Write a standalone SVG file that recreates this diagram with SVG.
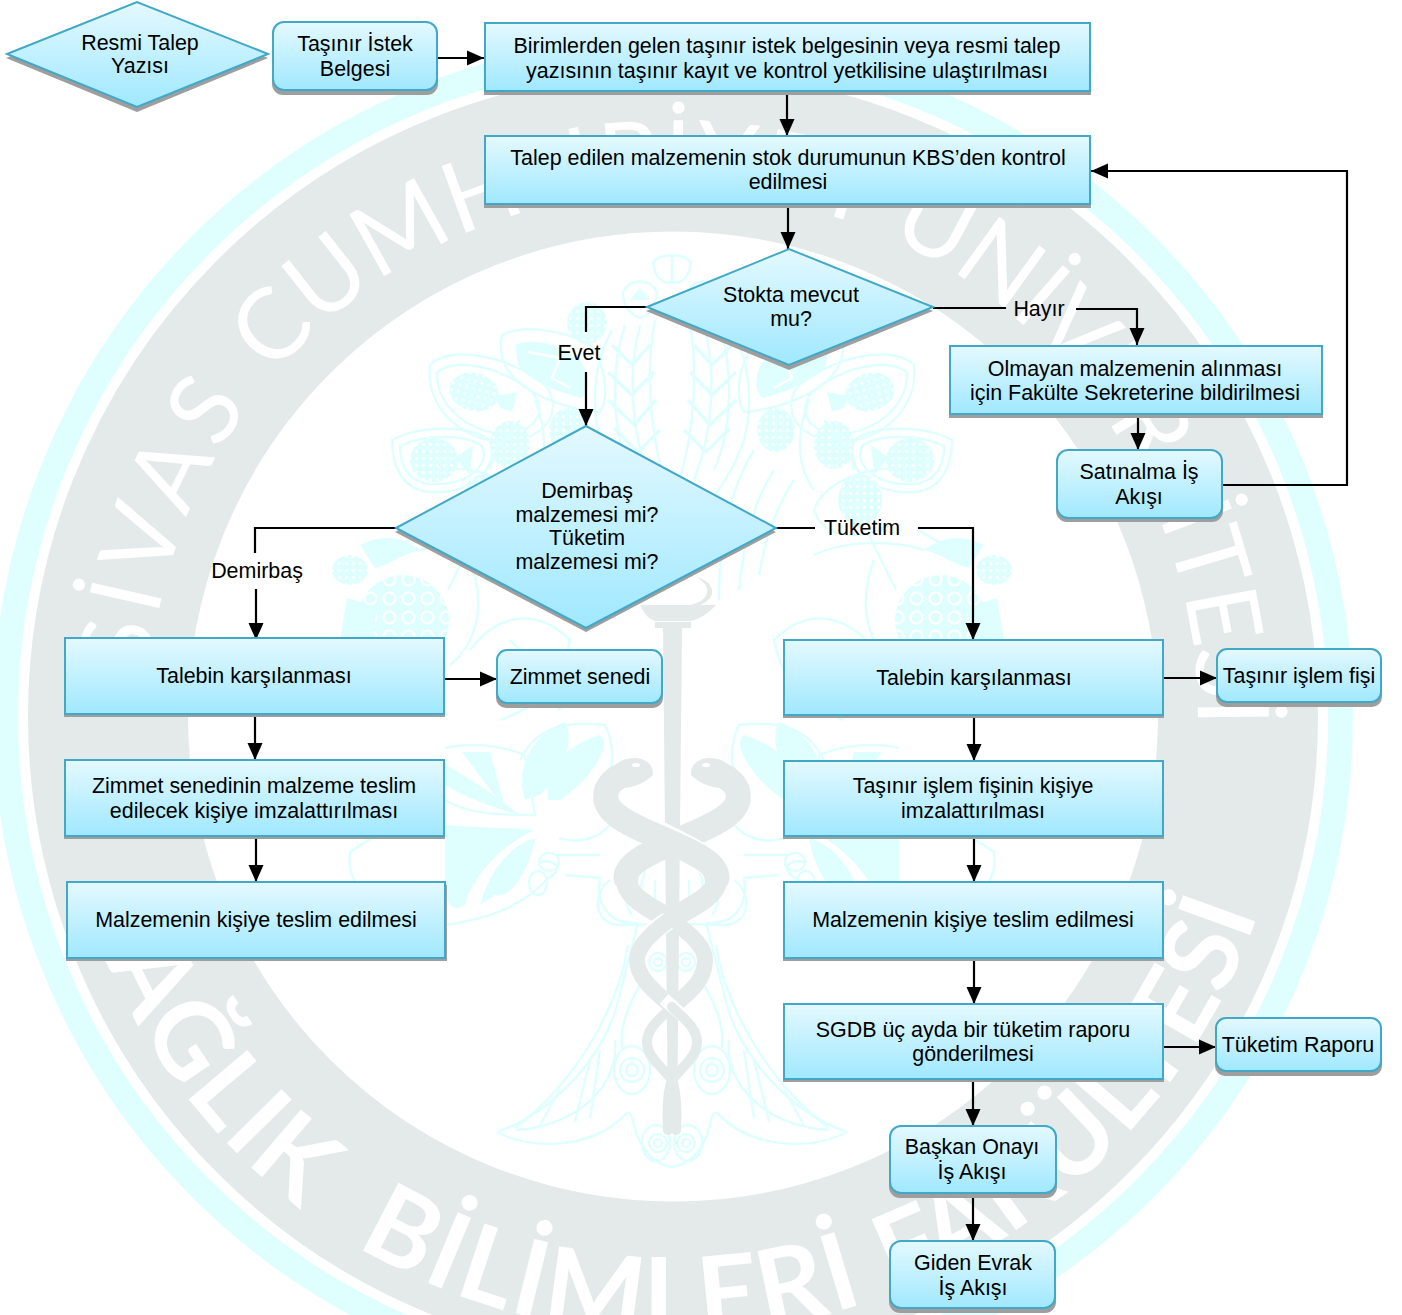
<svg xmlns="http://www.w3.org/2000/svg" xmlns:xlink="http://www.w3.org/1999/xlink" width="1402" height="1315" viewBox="0 0 1402 1315">
<defs>
<linearGradient id="fillG" x1="0" y1="0" x2="0" y2="1"><stop offset="0" stop-color="#E4F9FF"/><stop offset="1" stop-color="#A0E8FF"/></linearGradient>
<marker id="arr" markerUnits="userSpaceOnUse" markerWidth="18" markerHeight="16" refX="17" refY="8" orient="auto"><path d="M0 0.5L17 8L0 15.5Z" fill="#000"/></marker>
<pattern id="dots" width="7" height="7" patternUnits="userSpaceOnUse"><rect width="7" height="7" fill="#DFFFFF"/><circle cx="3.5" cy="3.5" r="1.5" fill="#fff"/></pattern>
<pattern id="rings" width="19" height="19" patternUnits="userSpaceOnUse"><rect width="19" height="19" fill="#DFFFFF"/><circle cx="9.5" cy="9.5" r="6" fill="none" stroke="#fff" stroke-width="2.2"/></pattern>
<path id="arcTop" d="M148.7 689 A525 525 0 1 1 1180 852.4"/>
<path id="arcBot" d="M77 876 A617 617 0 0 0 1287.7 770.3"/>
</defs>
<style>
text{font-family:"Liberation Sans",Arial,sans-serif;font-size:21.45px;fill:#000;text-anchor:middle}
.n{fill:url(#fillG);stroke:#41A8C8;stroke-width:2}
.s{fill:#9E9E9E}
.c{fill:none;stroke:#000;stroke-width:2.2}
.a{marker-end:url(#arr)}
.w{font-family:Lato,"Open Sans",sans-serif;fill:#fff;text-anchor:start}
.t{fill:none;stroke:#DFFFFF;stroke-width:2.5}
.f{fill:#DFFFFF;stroke:none}
.sn{fill:none;stroke:#E4EAEA;stroke-linecap:round}
.sh{fill:#E4EAEA}
</style>
<g id="background">
<circle cx="673" cy="716.5" r="667.5" fill="none" stroke="#DFFFFF" stroke-width="25"/>
<circle cx="673" cy="716.5" r="565" fill="none" stroke="#E4EAEA" stroke-width="160"/>
<text class="w" style="font-size:99px"><textPath href="#arcTop" xlink:href="#arcTop" startOffset="12"><tspan style="letter-spacing:7px">SİVAS </tspan><tspan style="letter-spacing:0.6px">CUMHURİYET </tspan><tspan style="letter-spacing:-2.5px">ÜNİVERSİTESİ</tspan></textPath></text>
<text class="w" style="font-size:106px;letter-spacing:3px;font-weight:700"><textPath href="#arcBot" xlink:href="#arcBot" startOffset="29"><tspan>SAĞLIK </tspan><tspan dx="35">BİLİMLERİ </tspan><tspan style="letter-spacing:0.5px">FAKÜLTESİ</tspan></textPath></text>
<g id="tree" class="t">
<g id="treeHalf">
<path d="M653 262C660 255 668 255 672 256V282C664 284 655 280 653 262Z"/>
<path d="M623 292C630 278 650 278 657 292C656 305 650 315 640 318C630 315 622 305 623 292Z"/>
<path d="M630 300L640 288L650 300Z" class="f"/>
<ellipse cx="587" cy="323" rx="20" ry="21" fill="url(#dots)" stroke="none"/>
<path d="M502 335C520 325 560 328 590 345C605 365 610 395 600 412C570 410 520 395 505 365C500 355 500 345 502 335Z"/>
<path d="M515 345C535 337 560 345 580 360C590 375 590 390 582 398C555 392 530 380 518 365Z" class="f"/>
<path d="M528 352L560 358L552 378L570 388" stroke="#fff" fill="none"/>
<path d="M430 365C445 348 500 350 545 385C565 410 545 440 505 442C465 442 425 410 430 365Z"/>
<path d="M437 372C452 360 495 362 532 392C548 412 535 432 505 434C470 434 435 405 437 372Z"/>
<ellipse cx="474" cy="392" rx="25" ry="19" transform="rotate(15 474 392)" fill="url(#dots)" stroke="none"/>
<path d="M495 396L517 392L512 412L500 408Z" class="f"/>
<path d="M392 440C420 425 470 425 490 440C500 470 470 495 430 492C405 490 392 470 392 440Z"/>
<path d="M400 446C424 434 466 434 482 446C490 468 465 486 430 484C410 482 400 468 400 446Z"/>
<ellipse cx="434" cy="460" rx="24" ry="22" fill="url(#dots)" stroke="none"/>
<path d="M455 458L473 445L470 475Z" class="f"/>
<ellipse cx="510" cy="445" rx="20" ry="24" fill="url(#dots)" stroke="none"/>
<ellipse cx="568" cy="430" rx="19" ry="22" fill="url(#dots)" stroke="none"/>
<ellipse cx="484" cy="500" rx="22" ry="26" fill="url(#dots)" stroke="none"/>
<path d="M450 470C470 465 520 480 530 510C520 540 480 540 455 525"/>
<path d="M520 420C500 445 490 460 490 470M535 400C550 440 545 470 530 490"/>
<path d="M612 330C595 360 590 400 600 440C610 470 625 490 640 510M625 325C610 370 612 430 630 470"/>
<path d="M640 325C628 370 630 430 650 480M655 320C645 370 650 440 668 490"/>
<path d="M612 345L632 365L650 345M608 372L632 395L654 372M608 400L634 425L656 400M614 428L638 452L660 430" stroke-width="3.5"/>
<path d="M570 470C590 500 600 540 605 590M590 450C615 490 625 540 625 600M550 480C570 510 580 545 585 575"/>
<path d="M420 550C450 540 500 540 530 555M384 560C400 542 420 535 425 530"/>
<path d="M360 545C380 535 400 535 420 550C400 555 390 565 375 568" class="f"/>
<circle cx="403" cy="621" r="46" fill="url(#rings)" stroke="none"/>
<ellipse cx="350" cy="570" rx="18" ry="15" fill="url(#dots)" stroke="none"/>
<path d="M347 598L377 607L372 640H340Z" class="f"/>
<path d="M470 560C485 600 480 640 450 665M448 590L475 535"/>
<path d="M470 650C500 610 540 610 570 640C560 690 530 710 500 720M510 640C530 660 550 680 560 710"/>
<path d="M525 800C515 770 530 735 565 722C575 740 565 770 540 795Z" class="f"/>
<path d="M548 800C545 770 565 745 600 735C615 745 585 785 560 800Z" class="f"/>
<path d="M520 760C535 730 560 720 605 725C615 745 615 770 600 800M600 790C625 790 620 830 590 838C570 845 560 835 560 840"/>
<path d="M610 880C590 895 595 925 620 925C640 925 672 923 672 923" />
<path d="M445 748C470 742 500 745 525 755L535 815C500 815 470 815 445 800" />
<path d="M445 765C465 775 495 795 520 815C500 810 470 800 445 785Z" class="f"/>
<path d="M462 752C475 770 490 790 505 808L490 752Z" class="f"/>
<path d="M445 825C480 828 520 828 535 830C500 845 470 880 465 905C450 915 445 900 445 880Z" class="f"/>
<path d="M480 905C490 870 510 845 535 838C530 870 510 900 495 895Z" class="f"/>
<path d="M445 925C480 920 520 910 548 878C565 870 555 858 540 862M447 830C420 820 395 820 350 852C345 880 365 900 395 915C410 925 430 925 445 925"/>
<ellipse cx="538" cy="883" rx="9" ry="12"/><ellipse cx="549" cy="862" rx="10" ry="9"/>
<path d="M555 855H600M565 875L600 878C595 905 610 925 638 923"/>
<path d="M636 860C625 875 622 905 632 915M645 870C640 885 640 900 645 910M655 880V905"/>
<path d="M638 923L617 1005C605 1050 560 1110 497 1132"/>
<path d="M628 945C620 1000 580 1080 515 1128"/>
<path d="M497 1132C530 1150 590 1150 625 1115C630 1110 632 1115 634 1125C640 1150 655 1165 672 1167"/>
<path d="M515 1130C570 1128 620 1090 615 1040M590 1060L575 1122M600 1050L590 1118M560 1090L540 1125"/>
<circle cx="632" cy="1070" r="6"/><circle cx="632" cy="1070" r="12"/><ellipse cx="632" cy="1070" rx="18" ry="24"/>
<circle cx="658" cy="1143" r="4"/><circle cx="658" cy="1143" r="9"/><ellipse cx="656" cy="1143" rx="14" ry="18"/>
<circle cx="658" cy="962" r="4"/><circle cx="658" cy="962" r="9"/>
<path d="M640 985C625 1010 620 1030 622 1048"/>
</g>
<use href="#treeHalf" xlink:href="#treeHalf" transform="matrix(-1 0 0 1 1344 0)"/>
</g>
<g id="caduceus">
<path d="M696 577C712 585 712 600 690 605L700 605C718 598 716 582 696 577Z" class="sh"/>
<path d="M640 605H716C706 616 698 619 691 621H655C648 619 645 614 640 605Z" class="sh"/>
<rect x="655" y="622" width="36" height="6" class="sh"/>
<path d="M663 628H682L677 1130H668Z" class="sh"/>
<g id="snakeR">
<path class="sn" stroke-width="25" d="M712 773C730 775 740 787 738 800C734 820 694 832 672 843C644 855 626 865 626 878"/>
<path class="sn" stroke-width="21" d="M626 878C626 895 645 905 662 915"/>
<path class="sn" stroke-width="16" d="M662 915C685 928 705 945 705 960C705 980 690 992 678 1002"/>
<path class="sn" stroke-width="10" d="M672 1007C659 1020 647 1028 647 1042C647 1058 664 1068 672 1080C676 1090 677 1110 676 1130"/>
<path d="M691 772C692 763 700 758 710 758C725 758 735 768 738 782L722 788C710 788 698 782 691 775Z" class="sh"/>
<ellipse cx="706" cy="765" rx="4" ry="2" fill="#fff"/>
</g>
<g id="snakeL">
<path fill="none" stroke="#fff" stroke-width="27" d="M640 825C650 830 662 836 672 841C700 855 717 865 717 878"/>
<path class="sn" stroke-width="25" d="M632 773C614 775 604 787 606 800C610 820 650 832 672 843C700 855 717 865 717 878"/>
<path class="sn" stroke-width="21" d="M717 878C717 895 695 905 672 918"/>
<path fill="none" stroke="#fff" stroke-width="19" d="M668 921C660 926 655 930 650 934"/>
<path class="sn" stroke-width="16" d="M672 918C655 930 637 945 637 960C637 980 660 995 672 1007"/>
<path fill="none" stroke="#fff" stroke-width="13" d="M664 999L682 1015"/>
<path class="sn" stroke-width="10" d="M672 1007C685 1020 697 1028 697 1042C697 1058 680 1068 672 1080C668 1090 667 1110 668 1130"/>
<path d="M653 772C652 763 644 758 634 758C619 758 609 768 606 782L622 788C634 788 646 782 653 775Z" class="sh"/>
<ellipse cx="636" cy="765" rx="4" ry="2" fill="#fff"/>
</g>
</g>
</g>
<g id="connectors">
<path class="c a" d="M437 58H484"/>
<path class="c a" d="M787 92V136"/>
<path class="c a" d="M788 205V249"/>
<path class="c" d="M647 307H586V332"/>
<path class="c a" d="M586 372V426"/>
<path class="c" d="M933 308H1006"/>
<path class="c a" d="M1076 309H1137V345"/>
<path class="c a" d="M1138 415V450"/>
<path class="c a" d="M1222 485H1347V171H1091"/>
<path class="c" d="M396 528H255V553"/>
<path class="c a" d="M256 589V640"/>
<path class="c" d="M776 528H815"/>
<path class="c a" d="M918 528H973V640"/>
<path class="c a" d="M444 679H497"/>
<path class="c a" d="M255 714V760"/>
<path class="c a" d="M256 836V882"/>
<path class="c a" d="M1163 678H1217"/>
<path class="c a" d="M974 715V761"/>
<path class="c a" d="M974 836V882"/>
<path class="c a" d="M974 958V1004"/>
<path class="c a" d="M1163 1047H1216"/>
<path class="c a" d="M973 1079V1126"/>
<path class="c a" d="M973 1193V1241"/>
</g>
<g id="n1"><path class="s" d="M6 58L137 7L268 58L137 112Z"/><path class="n" d="M7 54L137 2L268 54L137 107Z"/><text x="140" y="50">Resmi Talep</text><text x="140" y="73">Yazısı</text></g>
<g id="n2"><rect class="s" x="272" y="26" width="166" height="69" rx="11"/><rect class="n" x="273" y="22" width="164" height="68" rx="11"/><text x="355" y="51">Taşınır İstek</text><text x="355" y="76">Belgesi</text></g>
<g id="n3"><rect class="s" x="484" y="26" width="607" height="69"/><rect class="n" x="485" y="23" width="605" height="68"/><text x="787" y="53">Birimlerden gelen taşınır istek belgesinin veya resmi talep</text><text x="787" y="78">yazısının taşınır kayıt ve kontrol yetkilisine ulaştırılması</text></g>
<g id="n4"><rect class="s" x="484" y="139" width="607" height="69"/><rect class="n" x="485" y="136" width="605" height="68"/><text x="788" y="165">Talep edilen malzemenin stok durumunun KBS’den kontrol</text><text x="788" y="189">edilmesi</text></g>
<g id="n5"><path class="s" d="M646 311L789 254L933 311L789 370Z"/><path class="n" d="M647 307L789 249L933 307L789 365Z"/><text x="791" y="302">Stokta mevcut</text><text x="791" y="326">mu?</text></g>
<g id="n6"><rect class="s" x="949" y="349" width="374" height="69"/><rect class="n" x="950" y="346" width="372" height="68"/><text x="1135" y="376">Olmayan malzemenin alınması</text><text x="1135" y="400">için Fakülte Sekreterine bildirilmesi</text></g>
<g id="n7"><rect class="s" x="1056" y="454" width="167" height="68" rx="11"/><rect class="n" x="1057" y="450" width="165" height="68" rx="11"/><text x="1139" y="479">Satınalma İş</text><text x="1139" y="504">Akışı</text></g>
<g id="n8"><path class="s" d="M395 532L586 431L776 532L586 632Z"/><path class="n" d="M396 528L586 426L776 528L586 628Z"/><text x="587" y="498">Demirbaş</text><text x="587" y="522">malzemesi mi?</text><text x="587" y="545">Tüketim</text><text x="587" y="569">malzemesi mi?</text></g>
<g id="n9"><rect class="s" x="64" y="641" width="381" height="76"/><rect class="n" x="65" y="638" width="379" height="76"/><text x="254" y="683">Talebin karşılanması</text></g>
<g id="n10"><rect class="s" x="496" y="654" width="167" height="54" rx="10"/><rect class="n" x="497" y="650" width="165" height="53" rx="10"/><text x="580" y="684">Zimmet senedi</text></g>
<g id="n11"><rect class="s" x="64" y="763" width="381" height="76"/><rect class="n" x="65" y="760" width="379" height="76"/><text x="254" y="793">Zimmet senedinin malzeme teslim</text><text x="254" y="818">edilecek kişiye imzalattırılması</text></g>
<g id="n12"><rect class="s" x="66" y="885" width="381" height="76"/><rect class="n" x="67" y="882" width="378" height="76"/><text x="256" y="927">Malzemenin kişiye teslim edilmesi</text></g>
<g id="n13"><rect class="s" x="783" y="643" width="381" height="75"/><rect class="n" x="784" y="640" width="379" height="75"/><text x="974" y="685">Talebin karşılanması</text></g>
<g id="n14"><rect class="s" x="1216" y="653" width="166" height="54" rx="10"/><rect class="n" x="1217" y="649" width="164" height="53" rx="10"/><text x="1299" y="683">Taşınır işlem fişi</text></g>
<g id="n15"><rect class="s" x="783" y="764" width="381" height="75"/><rect class="n" x="784" y="761" width="379" height="75"/><text x="973" y="793">Taşınır işlem fişinin kişiye</text><text x="973" y="818">imzalattırılması</text></g>
<g id="n16"><rect class="s" x="783" y="885" width="381" height="76"/><rect class="n" x="784" y="882" width="379" height="76"/><text x="973" y="927">Malzemenin kişiye teslim edilmesi</text></g>
<g id="n17"><rect class="s" x="783" y="1007" width="381" height="75"/><rect class="n" x="784" y="1004" width="379" height="75"/><text x="973" y="1037">SGDB üç ayda bir tüketim raporu</text><text x="973" y="1061">gönderilmesi</text></g>
<g id="n18"><rect class="s" x="1215" y="1022" width="167" height="54" rx="10"/><rect class="n" x="1216" y="1018" width="165" height="53" rx="10"/><text x="1298" y="1052">Tüketim Raporu</text></g>
<g id="n19"><rect class="s" x="889" y="1130" width="168" height="68" rx="11"/><rect class="n" x="890" y="1126" width="166" height="67" rx="11"/><text x="972" y="1154">Başkan Onayı</text><text x="972" y="1179">İş Akışı</text></g>
<g id="n20"><rect class="s" x="889" y="1245" width="167" height="68" rx="11"/><rect class="n" x="890" y="1241" width="165" height="67" rx="11"/><text x="973" y="1270">Giden Evrak</text><text x="973" y="1295">İş Akışı</text></g>
<g id="labels">
<text x="579" y="360">Evet</text>
<text x="1039" y="316">Hayır</text>
<text x="257" y="578">Demirbaş</text>
<text x="862" y="535">Tüketim</text>
</g>
</svg>
